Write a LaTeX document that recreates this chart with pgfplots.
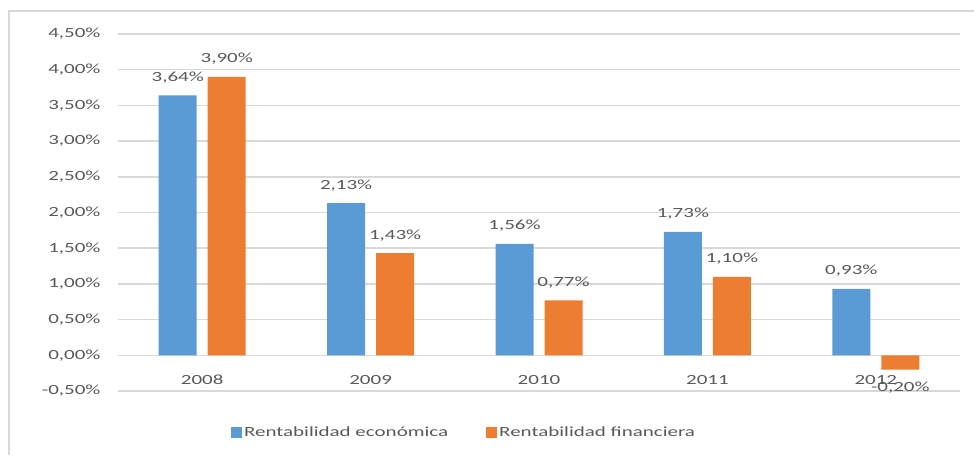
\documentclass[border=0pt]{standalone}
\usepackage{fontspec}
\setmainfont{Carlito}[FakeStretch=1.5]
\usepackage{pgfplots}
\pgfplotsset{compat=1.18}
\definecolor{gridgray}{HTML}{D9D9D9}
\definecolor{txtgray}{HTML}{595959}
\definecolor{cblue}{HTML}{5B9BD5}
\definecolor{corange}{HTML}{ED7D31}
\begin{document}
\begin{tikzpicture}[x=1pt,y=1pt]
\useasboundingbox (0,0) rectangle (974,455);
\draw[color=gridgray, line width=1.5pt] (9,0) -- (9,444) -- (974,444);
\begin{axis}[
  at={(118pt,64pt)}, anchor=south west,
  width=842pt, height=357pt, scale only axis,
  xmin=-0.5, xmax=4.5, ymin=-0.5, ymax=4.5,
  ybar=11pt, bar width=38pt,
  axis line style={draw=none},
  major tick length=0pt,
  ymajorgrids, grid style={color=gridgray, line width=1.5pt},
  ytick={-0.5,0,0.5,1,1.5,2,2.5,3,3.5,4,4.5},
  /pgf/number format/assume math mode=true,
  yticklabel={\pgfmathprintnumber[fixed,fixed zerofill,precision=2,use comma]{\tick}\%},
  yticklabel style={font=\fontsize{14}{16}\selectfont, text=txtgray, xshift=-14pt},
  xtick={0,1,2,3,4},
  xticklabels={2008,2009,2010,2011,2012},
  xticklabel style={font=\fontsize{14}{16}\selectfont, text=txtgray, anchor=center, yshift=11pt},
  nodes near coords={\pgfmathprintnumber[fixed,fixed zerofill,precision=2,use comma,assume math mode=true]{\pgfplotspointmeta}\%},
  nodes near coords style={font=\fontsize{14}{16}\selectfont, text=txtgray, inner ysep=12pt},
  legend style={at={(axis description cs:0.411,-0.115)}, anchor=center, draw=none, fill=none,
    legend columns=2, font=\fontsize{14}{16}\selectfont, text=txtgray,
    /tikz/every even column/.append style={column sep=36pt}},
  legend image code/.code={\fill[#1] (0pt,-5.5pt) rectangle (11pt,5.5pt);},
]
\addplot[fill=cblue, draw=none] coordinates {(0,3.64) (1,2.13) (2,1.56) (3,1.73) (4,0.93)};
\addplot[fill=corange, draw=none] coordinates {(0,3.90) (1,1.43) (2,0.77) (3,1.10) (4,-0.20)};
\legend{Rentabilidad económica, Rentabilidad financiera}
\end{axis}
\end{tikzpicture}
\end{document}
